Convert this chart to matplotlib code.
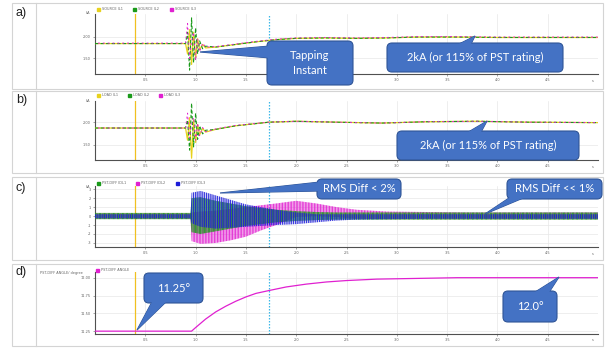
import matplotlib
matplotlib.use('Agg')
import matplotlib.pyplot as plt
from matplotlib.patches import FancyBboxPatch, Polygon, Rectangle
from matplotlib.transforms import Affine2D

# ---------------- data ----------------
x_ticks = [0.5, 1.0, 1.5, 2.0, 2.5, 3.0, 3.5, 4.0, 4.5]
x_tick_labels = ["0.5", "1.0", "1.5", "2.0", "2.5", "3.0", "3.5", "4.0", "4.5"]
marker_time = 0.40        # yellow marker
cursor_time = 1.73        # cyan dotted cursor

# a) source currents (kA)
a_t = [0, 0.90, 0.92, 0.94, 0.96, 0.98, 1.00, 1.02, 1.04, 1.07, 1.10, 1.2, 1.4, 1.6,
       1.8, 2.0, 2.3, 2.6, 2.9, 3.2, 3.6, 4.0, 4.5, 5.0]
a_il1 = [1.84, 1.84, 1.60, 2.16, 1.36, 2.10, 1.50, 1.95, 1.70, 1.82, 1.74, 1.76, 1.82,
         1.88, 1.93, 1.96, 1.97, 1.96, 1.97, 1.99, 1.99, 1.98, 1.98, 1.98]
a_il2 = [1.84, 1.84, 2.10, 1.23, 2.43, 1.40, 2.20, 1.60, 1.90, 1.72, 1.78, 1.76, 1.82,
         1.88, 1.93, 1.96, 1.97, 1.96, 1.97, 1.99, 1.99, 1.98, 1.98, 1.98]
a_il3 = [1.85, 1.85, 2.30, 1.50, 1.90, 2.10, 1.45, 1.95, 1.65, 1.85, 1.76, 1.77, 1.83,
         1.89, 1.94, 1.97, 1.98, 1.97, 1.98, 2.00, 2.00, 1.99, 1.99, 1.99]

# b) load currents (kA)
b_t = [0, 0.90, 0.92, 0.94, 0.96, 0.98, 1.00, 1.02, 1.04, 1.07, 1.10, 1.2, 1.4, 1.73,
       2.0, 2.4, 2.85, 3.3, 3.8, 4.3, 5.0]
b_il1 = [1.87, 1.87, 1.60, 2.10, 1.20, 2.05, 1.55, 1.95, 1.72, 1.86, 1.78, 1.84, 1.92,
         2.00, 2.02, 2.00, 1.98, 2.01, 2.02, 2.00, 1.99]
b_il2 = [1.87, 1.87, 2.05, 1.38, 2.42, 1.45, 2.20, 1.62, 1.92, 1.74, 1.82, 1.84, 1.92,
         2.00, 2.02, 2.00, 1.98, 2.01, 2.02, 2.00, 1.99]
b_il3 = [1.87, 1.87, 2.20, 1.65, 1.95, 2.10, 1.60, 1.98, 1.70, 1.88, 1.79, 1.85, 1.93,
         2.00, 2.02, 2.00, 1.98, 2.01, 2.02, 2.00, 1.99]

# c) differential currents: oscillation envelopes
c_t = [0, 0.95, 0.96, 1.05, 1.2, 1.35, 1.5, 1.65, 1.8, 2.0, 2.2, 2.4, 2.6, 2.9,
       3.3, 3.7, 4.1, 4.5, 5.0]
c_idl1_hi = [0.35, 0.35, 2.0, 2.1, 1.7, 1.4, 1.1, 0.9, 0.7, 0.55, 0.45, 0.4, 0.4, 0.4,
             0.4, 0.4, 0.4, 0.4, 0.4]
c_idl1_lo = [-0.35, -0.35, -1.8, -2.0, -1.7, -1.4, -1.1, -0.9, -0.7, -0.55, -0.45, -0.4,
             -0.4, -0.4, -0.4, -0.4, -0.4, -0.4, -0.4]
c_idl2_hi = [0.3, 0.3, 0.4, 0.5, 0.6, 0.8, 1.0, 1.2, 1.4, 1.7, 1.4, 1.0, 0.7, 0.5,
             0.45, 0.4, 0.4, 0.4, 0.4]
c_idl2_lo = [-0.3, -0.3, -2.8, -3.1, -3.0, -2.7, -2.3, -1.6, -1.0, -0.1, 0.0, -0.1,
             -0.3, -0.35, -0.35, -0.35, -0.35, -0.35, -0.35]
c_idl3_hi = [0.2, 0.2, 2.6, 2.8, 2.3, 1.8, 1.3, 1.0, 0.7, 0.4, 0.2, 0.2, 0.2, 0.2,
             0.2, 0.2, 0.2, 0.2, 0.2]
c_idl3_lo = [-0.25, -0.25, -0.8, -1.2, -1.4, -1.3, -1.2, -1.1, -1.0, -0.9, -0.7, -0.5,
             -0.4, -0.35, -0.3, -0.3, -0.3, -0.3, -0.3]

# d) PST angle (degree)
d_t = [0, 0.96, 1.0, 1.1, 1.2, 1.3, 1.4, 1.5, 1.6, 1.73, 1.9, 2.1, 2.3, 2.5, 2.8,
       3.2, 3.6, 5.0]
d_angle = [11.25, 11.25, 11.30, 11.42, 11.52, 11.60, 11.67, 11.73, 11.78, 11.82,
           11.87, 11.91, 11.94, 11.96, 11.98, 11.99, 12.00, 12.00]

a_labels = ["SOURCE IL1", "SOURCE IL2", "SOURCE IL3"]
b_labels = ["LOAD IL1", "LOAD IL2", "LOAD IL3"]
c_labels = ["PST-DIFF IDL1", "PST-DIFF IDL2", "PST-DIFF IDL3"]
d_labels = ["PST-DIFF ANGLE"]

# ---------------- figure ----------------
W, H = 608, 351
fig = plt.figure(figsize=(W / 100, H / 100), dpi=100)
plt.rcParams['hatch.linewidth'] = 0.6
px = Affine2D().scale(1 / W, -1 / H).translate(0, 1) + fig.transFigure

YEL = '#e8d21d'
GRN = '#1a9a1a'
MAG = '#e020d0'
BLU = '#1c1cd8'
TICKC = '#8a8a8a'
BOXC = '#4472c4'
BOXE = '#2f5597'

# panel frames
panel_tops = [3, 91, 177, 264]
panel_bots = [89, 173, 260, 346]
for t, b in zip(panel_tops, panel_bots):
    fig.patches.append(Rectangle((12, t), 591, b - t, transform=px, fill=False,
                                 ec='#d4d4d4', lw=0.8))
    fig.add_artist(plt.Line2D([36, 36], [t, b], transform=px, color='#d4d4d4', lw=0.8))
for lab, yc in zip(["a)", "b)", "c)", "d)"], [13, 100, 188, 272]):
    fig.text(16, yc, lab, transform=px, fontsize=9, family='Liberation Sans',
             va='center', ha='left', color='#222')


def make_ax(top, bottom):
    return fig.add_axes([95 / W, 1 - bottom / H, (598 - 95) / W, (bottom - top) / H])


def style(ax, yticks, ylabels, ylim):
    ax.set_xlim(0, 5)
    ax.set_ylim(*ylim)
    ax.set_xticks(x_ticks)
    ax.set_xticklabels(x_tick_labels, fontsize=2.5, color=TICKC)
    ax.set_yticks(yticks)
    ax.set_yticklabels(ylabels, fontsize=2.5, color=TICKC)
    ax.grid(True, color='#e8e8e8', lw=0.5)
    ax.set_axisbelow(True)
    for s in ['top', 'right']:
        ax.spines[s].set_visible(False)
    for s in ['left', 'bottom']:
        ax.spines[s].set_color('#505050')
        ax.spines[s].set_linewidth(0.8)
    ax.tick_params(length=1.5, width=0.4, pad=1.5, colors='#606060')
    ax.patch.set_alpha(0)
    ax.axvline(marker_time, color='#f0c020', lw=0.9, zorder=1)
    ax.axvline(cursor_time, color='#3cb8e8', lw=0.9, ls=(0, (1.2, 1.2)), zorder=1)


def legend(x_list, y, colors, labels):
    for x, c, l in zip(x_list, colors, labels):
        fig.patches.append(Rectangle((x, y - 1.5), 3, 3, transform=px, color=c))
        fig.text(x + 5, y, l, transform=px, fontsize=2.5, color='#666', va='center')


def unit(x, y, s, ha='right'):
    fig.text(x, y, s, transform=px, fontsize=2.5, color='#666', va='center', ha=ha)


# a)
ax = make_ax(14, 74)
style(ax, [1.5, 2.0], ["1.50", "2.00"], (1.14, 2.52))
ax.plot(a_t, a_il1, color=YEL, lw=0.9, zorder=3)
ax.plot(a_t, a_il2, color=GRN, lw=0.8, ls=(0, (3, 2)), zorder=4)
ax.plot(a_t, a_il3, color=MAG, lw=0.7, ls=(2, (2, 3)), zorder=5)
legend([97, 133, 170], 9, [YEL, GRN, MAG], a_labels)
unit(90, 13, "kA")
unit(593, 81, "s", ha='center')

# b)
ax = make_ax(101, 160)
style(ax, [1.5, 2.0], ["1.50", "2.00"], (1.16, 2.47))
ax.plot(b_t, b_il1, color=YEL, lw=0.9, zorder=3)
ax.plot(b_t, b_il2, color=GRN, lw=0.8, ls=(0, (3, 2)), zorder=4)
ax.plot(b_t, b_il3, color=MAG, lw=0.7, ls=(2, (2, 3)), zorder=5)
legend([97, 128, 159], 95, [YEL, GRN, MAG], b_labels)
unit(90, 101, "kA")
unit(593, 167, "s", ha='center')

# c)
ax = make_ax(186, 247)
style(ax, [-3, -2, -1, 0, 1, 2, 3], ["-3", "-2", "-1", "0", "1", "2", "3"], (-3.45, 3.35))
for hi, lo, col, hatch, z in [(c_idl2_hi, c_idl2_lo, MAG, '|' * 11, 3),
                              (c_idl1_hi, c_idl1_lo, GRN, '|' * 13, 5),
                              (c_idl3_hi, c_idl3_lo, BLU, '|' * 9, 7)]:
    ax.fill_between(c_t, lo, hi, facecolor=col, alpha=0.18, lw=0, zorder=z - 1)
    ax.fill_between(c_t, lo, hi, facecolor='none', edgecolor=col, hatch=hatch,
                    lw=0, zorder=z)
legend([97, 136, 176], 183, [GRN, MAG, BLU], c_labels)
unit(90, 187, "kA")
unit(593, 254, "s", ha='center')

# d)
ax = make_ax(272, 334)
style(ax, [11.25, 11.5, 11.75, 12.0], ["11.25", "11.50", "11.75", "12.00"], (11.21, 12.08))
ax.plot(d_t, d_angle, color=MAG, lw=0.9, zorder=3)
legend([96], 270, [MAG], d_labels)
unit(83, 273, "PST-DIFF ANGLE/ degree")
unit(593, 340, "s", ha='center')


# ---------------- callouts ----------------
def callout(box, base, tip, text, fs=8):
    x0, y0, x1, y1 = box
    tri = [base[0], base[1], tip]
    fig.patches.append(Polygon(tri, closed=True, transform=px, fc=BOXC, ec=BOXE,
                               lw=0.8, zorder=10))
    fig.patches.append(FancyBboxPatch((x0, y0), x1 - x0, y1 - y0,
                                      boxstyle='round,pad=0,rounding_size=5',
                                      transform=px, fc=BOXC, ec=BOXE, lw=0.8, zorder=11))
    fig.patches.append(Polygon(tri, closed=True, transform=px, fc=BOXC, ec='none',
                               lw=0, zorder=12))
    fig.text((x0 + x1) / 2, (y0 + y1) / 2, text, transform=px, fontsize=fs,
             family='Lato', color='white', ha='center', va='center', zorder=13,
             linespacing=1.5)


callout((267, 41, 353, 85), [(270, 46), (270, 58)], (200, 52), "Tapping\nInstant")
callout((387, 43, 563, 72), [(455, 46), (470, 46)], (475, 36), "2kA (or 115% of PST rating)")
callout((397, 131, 579, 160), [(465, 134), (480, 134)], (487, 121), "2kA (or 115% of PST rating)")
callout((317, 179, 401, 199), [(320, 182), (320, 191)], (220, 193), "RMS Diff < 2%")
callout((507, 179, 602, 199), [(512, 196), (528, 196)], (485, 214), "RMS Diff << 1%")
callout((144, 273, 203, 303), [(153, 300), (168, 300)], (137, 330), "11.25°")
callout((503, 291, 557, 322), [(532, 294), (548, 294)], (559, 277), "12.0°")

fig.savefig('out.png', dpi=100)
